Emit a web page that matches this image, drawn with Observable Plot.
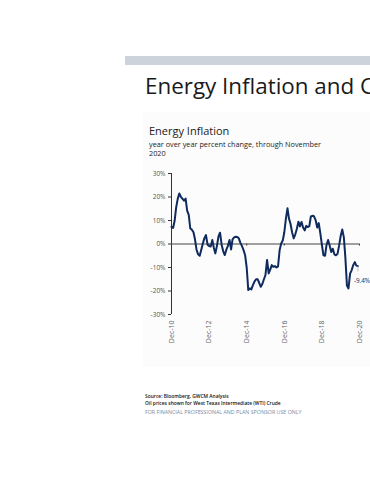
<!DOCTYPE html>
<html><head><meta charset="utf-8">
<script src="https://cdn.jsdelivr.net/npm/d3@7"></script>
<script src="https://cdn.jsdelivr.net/npm/@observablehq/plot@0.6"></script>
<style>
html,body{margin:0;padding:0;background:#fff;width:370px;height:480px;overflow:hidden;}
#page{position:relative;width:370px;height:480px;overflow:hidden;font-family:"Open Sans","Noto Sans",sans-serif;}
.abs{position:absolute;white-space:nowrap;}
</style></head>
<body><div id="page">
<div class="abs" style="left:125px;top:56px;width:260px;height:9px;background:#cdd3da;"></div>
<div class="abs" style="left:143px;top:112px;width:240px;height:255px;background:#fcfcfc;"></div>
<div class="abs" id="bigtitle" style="left:145px;top:71px;width:400px;font-size:22.4px;color:#1a1a1a;line-height:30px;">Energy Inflation and Commodities</div>
<div class="abs" style="left:149px;top:124px;font-size:11px;color:#222;line-height:13px;">Energy Inflation</div>
<div class="abs" style="left:149px;top:140px;font-size:7.3px;color:#222;line-height:9px;">year over year percent change, through November<br>2020</div>
<div id="chart" class="abs" style="left:0;top:165px;"></div>
<div class="abs" style="left:145px;top:393px;font-size:4.9px;color:#111;line-height:7px;font-weight:600;">Source: Bloomberg, GWCM Analysis<br>Oil prices shown for West Texas Intermediate (WTI) Crude</div>
<div class="abs" style="left:145px;top:409px;font-size:5.3px;color:#7a8aa0;line-height:7px;">FOR FINANCIAL PROFESSIONAL AND PLAN SPONSOR USE ONLY</div>
</div>
<script>
const startMonth = "2010-12-01";
const y2010 = [7.3];
const y2011 = [6.8, 10.0, 15.5, 19.2, 21.5, 20.1, 19.3, 18.4, 19.3, 14.2, 12.4, 6.6];
const y2012 = [6.1, 5.0, 2.0, -2.5, -4.4, -5.0, -2.5, 0.2, 2.5, 3.8, -0.3, -0.9];
const y2013 = [-1.1, 1.7, -1.5, -4.0, -0.9, 3.2, 4.8, -0.3, -3.1, -4.7, -2.4, -0.8];
const y2014 = [1.7, -2.3, 2.0, 2.8, 3.1, 3.0, 2.4, 0.5, -0.9, -2.6, -4.8, -10.0];
const y2015 = [-19.6, -18.9, -19.3, -17.5, -16.0, -15.0, -15.0, -16.5, -18.2, -17.0, -15.0, -13.2];
const y2016 = [-6.8, -12.5, -11.0, -9.0, -9.7, -9.4, -10.0, -9.5, -2.6, 0.2, 1.5, 5.0];
const y2017 = [10.8, 15.2, 10.9, 8.5, 5.0, 2.4, 4.0, 6.4, 9.5, 7.5, 9.4, 7.0];
const y2018 = [5.8, 7.7, 7.2, 7.6, 11.7, 12.0, 11.8, 10.2, 7.0, 8.9, 4.5, -0.3];
const y2019 = [-4.8, -5.0, -0.4, 1.7, -0.6, -3.4, -2.0, -4.4, -4.8, -4.2, -0.6, 3.4];
const y2020 = [6.2, 2.8, -5.7, -17.7, -18.9, -12.6, -11.2, -9.0, -7.7, -9.2, -9.4];
const yTicks = [-30, -20, -10, 0, 10, 20, 30];
const xTickLabels = ["Dec-10", "Dec-12", "Dec-14", "Dec-16", "Dec-18", "Dec-20"];
const endLabel = "-9.4%";

const values = [].concat(y2010, y2011, y2012, y2013, y2014, y2015, y2016, y2017, y2018, y2019, y2020);
const start = new Date(startMonth + "T00:00:00Z");
const data = values.map((v, i) => ({date: d3.utcMonth.offset(start, i), value: v}));
const xTicks = xTickLabels.map((s, i) => d3.utcYear.offset(start, 2 * i));
const xDomain = [start, xTicks[xTicks.length - 1]];
const navy = "#0f2a5c";
const last = data[data.length - 1];

const chart = Plot.plot({
  width: 370,
  height: 200,
  marginLeft: 171,
  marginRight: 11,
  marginTop: 8,
  marginBottom: 51,
  style: {fontFamily: "'Open Sans','Noto Sans',sans-serif", background: "transparent", color: "#555"},
  x: {type: "utc", domain: xDomain},
  y: {domain: [-30, 30]},
  marks: [
    Plot.axisY({ticks: yTicks, tickFormat: d => d + "%", tickSize: 3, tickPadding: 3, fontSize: 6.5, stroke: "#333", fill: "#555", label: null}),
    Plot.axisX({ticks: xTicks, tickFormat: (d, i) => xTickLabels[i], tickRotate: -90, tickSize: 0, tickPadding: 6, fontSize: 7, fill: "#666", label: null}),
    Plot.ruleX([start], {stroke: "#333", strokeWidth: 1}),
    Plot.ruleY([0], {stroke: "#444", strokeWidth: 1}),
    Plot.ruleX(xTicks, {x: d => d, y1: 0, y2: -0.9, stroke: "#444"}),
    Plot.line(data, {x: "date", y: "value", stroke: navy, strokeWidth: 2, strokeLinejoin: "round"}),
    Plot.ruleX([last], {x: "date", y1: d => d.value, y2: d => d.value - 2.5, stroke: "#999", strokeWidth: 0.6}),
    Plot.text([last], {x: "date", y: "value", text: () => endLabel, dy: 15, dx: -4, textAnchor: "start", fill: navy, fontSize: 6.3})
  ]
});
document.getElementById("chart").appendChild(chart);
</script>
</body></html>
